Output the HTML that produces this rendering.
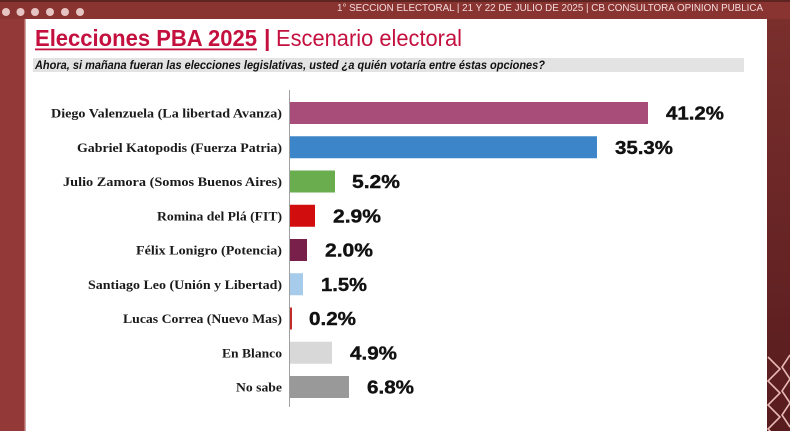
<!DOCTYPE html>
<html><head><meta charset="utf-8"><style>
html,body{margin:0;padding:0;width:790px;height:431px;overflow:hidden;background:#7a2e2e;}
svg{display:block}
</style></head><body>
<svg width="790" height="431" viewBox="0 0 790 431" xmlns="http://www.w3.org/2000/svg">
<defs>
<linearGradient id="rg" x1="0" y1="0" x2="0" y2="1">
<stop offset="0" stop-color="#7a2f2c"/><stop offset="1" stop-color="#571b1e"/>
</linearGradient>
</defs>
<!-- backgrounds -->
<rect x="0" y="0" width="790" height="431" fill="#8d3634"/>
<rect x="0" y="0" width="25" height="431" fill="#933a39"/>
<rect x="0" y="0" width="790" height="19" fill="#8a3432"/>
<rect x="0" y="0" width="790" height="2" fill="#5e2422"/>
<rect x="767" y="19" width="23" height="412" fill="url(#rg)"/>
<rect x="24" y="19" width="1.2" height="412" fill="#b76a66"/>
<!-- dots -->
<g fill="#e6c4c2">
<circle cx="6" cy="12" r="4"/><circle cx="20.5" cy="12" r="4"/><circle cx="35" cy="12" r="4"/>
<circle cx="50" cy="12" r="4"/><circle cx="65" cy="12" r="4"/><circle cx="80" cy="12" r="4"/>
</g>
<text x="337" y="11" font-family="Liberation Sans, sans-serif" font-size="10.5" fill="#f3dcdc" textLength="426" lengthAdjust="spacingAndGlyphs">1° SECCION ELECTORAL  | 21 Y 22 DE JULIO DE 2025 | CB CONSULTORA OPINION PUBLICA</text>
<!-- white panel -->
<rect x="25.5" y="19" width="741.5" height="412" fill="#ffffff"/>
<!-- zigzags -->
<g stroke="#e8b9b4" stroke-width="1.6" fill="none">
<polyline points="768,357 780,369 768,381 780,393 768,405 780,417 768,429 780,441"/>
<polyline points="790,355 782,367 790,379 782,391 790,403 782,415 790,427"/>
</g>
<!-- title -->
<text x="35" y="46" font-family="Liberation Sans, sans-serif" font-size="23" font-weight="bold" fill="#c4103f" textLength="222" lengthAdjust="spacingAndGlyphs">Elecciones PBA 2025</text>
<rect x="35" y="48.5" width="222" height="1.8" fill="#c4103f"/>
<text x="264" y="46" font-family="Liberation Sans, sans-serif" font-size="23" font-weight="bold" fill="#c4103f">|</text>
<text x="276" y="46" font-family="Liberation Sans, sans-serif" font-size="23" fill="#c4103f" textLength="186" lengthAdjust="spacingAndGlyphs">Escenario electoral</text>
<!-- subtitle bar -->
<rect x="33" y="58" width="711" height="14" fill="#e3e3e3"/>
<text x="35" y="69" font-family="Liberation Sans, sans-serif" font-size="11.5" font-weight="bold" font-style="italic" fill="#111" textLength="510" lengthAdjust="spacingAndGlyphs">Ahora, si mañana fueran las elecciones legislativas, usted ¿a quién votaría entre éstas opciones?</text>
<!-- axis -->
<line x1="289.5" y1="90" x2="289.5" y2="407" stroke="#a0a0a0" stroke-width="1"/>
<!-- bars -->
<g>
<rect x="290" y="102" width="358" height="22" fill="#a84c79"/>
<rect x="290" y="136.25" width="307" height="22" fill="#3d85c9"/>
<rect x="290" y="170.5" width="45" height="22" fill="#6aad4f"/>
<rect x="290" y="204.75" width="25" height="22" fill="#d20d0d"/>
<rect x="290" y="239" width="17" height="22" fill="#781f4a"/>
<rect x="290" y="273.25" width="13" height="22" fill="#a6cbeb"/>
<rect x="290" y="307.5" width="2" height="22" fill="#c42a2a"/>
<rect x="290" y="341.75" width="42" height="22" fill="#d8d8d8"/>
<rect x="290" y="376" width="59" height="22" fill="#999999"/>
</g>
<!-- category labels -->
<g font-family="Liberation Serif, serif" font-size="12.5" font-weight="bold" fill="#1a1a1a" text-anchor="end">
<text x="282" y="117.5" textLength="231" lengthAdjust="spacingAndGlyphs">Diego Valenzuela (La libertad Avanza)</text>
<text x="282" y="151.75" textLength="205" lengthAdjust="spacingAndGlyphs">Gabriel Katopodis (Fuerza Patria)</text>
<text x="282" y="186" textLength="219" lengthAdjust="spacingAndGlyphs">Julio Zamora (Somos Buenos Aires)</text>
<text x="282" y="220.25" textLength="125" lengthAdjust="spacingAndGlyphs">Romina del Plá (FIT)</text>
<text x="282" y="254.5" textLength="146" lengthAdjust="spacingAndGlyphs">Félix Lonigro (Potencia)</text>
<text x="282" y="288.75" textLength="194" lengthAdjust="spacingAndGlyphs">Santiago Leo (Unión y Libertad)</text>
<text x="282" y="323" textLength="159" lengthAdjust="spacingAndGlyphs">Lucas Correa (Nuevo Mas)</text>
<text x="282" y="357.25" textLength="60" lengthAdjust="spacingAndGlyphs">En Blanco</text>
<text x="282" y="391.5" textLength="46" lengthAdjust="spacingAndGlyphs">No sabe</text>
</g>
<!-- value labels -->
<g font-family="Liberation Sans, sans-serif" font-size="18.5" font-weight="bold" fill="#111" stroke="#111" stroke-width="0.4">
<text x="666" y="119.5" textLength="58" lengthAdjust="spacingAndGlyphs">41.2%</text>
<text x="615" y="153.75" textLength="58" lengthAdjust="spacingAndGlyphs">35.3%</text>
<text x="352" y="188" textLength="48" lengthAdjust="spacingAndGlyphs">5.2%</text>
<text x="333" y="222.25" textLength="48" lengthAdjust="spacingAndGlyphs">2.9%</text>
<text x="325" y="256.5" textLength="48" lengthAdjust="spacingAndGlyphs">2.0%</text>
<text x="321" y="290.75" textLength="46" lengthAdjust="spacingAndGlyphs">1.5%</text>
<text x="309" y="325" textLength="47" lengthAdjust="spacingAndGlyphs">0.2%</text>
<text x="350" y="359.25" textLength="47" lengthAdjust="spacingAndGlyphs">4.9%</text>
<text x="367" y="393.5" textLength="47" lengthAdjust="spacingAndGlyphs">6.8%</text>
</g>
</svg>
</body></html>
